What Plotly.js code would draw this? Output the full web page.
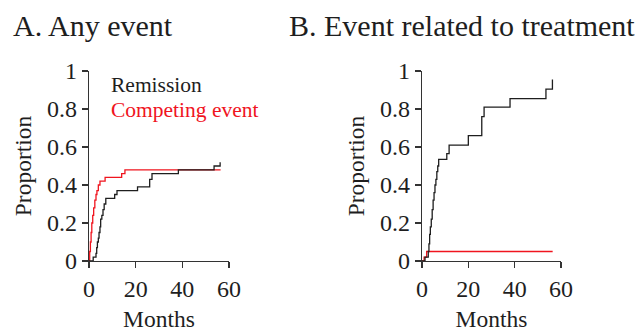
<!DOCTYPE html>
<html>
<head>
<meta charset="utf-8">
<script src="https://cdn.plot.ly/plotly-3.0.1.min.js"></script>
<style>html,body{margin:0;padding:0;background:#fff;}#chart{width:639px;height:332px;}</style>
</head>
<body>
<div id="chart"></div>
<script>
// Panel A: Any event
const anyRemissionMonths = [0, 1.8, 3.0, 3.3, 3.6, 4.0, 4.3, 4.7, 5.0, 5.5, 6.0, 6.5, 7.2, 11.0, 12.0, 20.8, 26.0, 27.0, 38.3, 53.6, 56.2];
const anyRemissionProp   = [0, 0.02, 0.04, 0.07, 0.10, 0.12, 0.15, 0.18, 0.22, 0.24, 0.27, 0.30, 0.33, 0.35, 0.37, 0.39, 0.43, 0.46, 0.48, 0.50, 0.52];
const anyCompetingMonths = [0, 0.3, 0.6, 0.9, 1.2, 1.6, 2.0, 2.5, 3.0, 3.4, 4.0, 4.7, 6.9, 14.0, 15.4, 56.4];
const anyCompetingProp   = [0, 0.05, 0.10, 0.15, 0.20, 0.24, 0.28, 0.32, 0.35, 0.37, 0.40, 0.42, 0.44, 0.46, 0.48, 0.48];
// Panel B: Event related to treatment
const trtRemissionMonths = [0, 1.3, 2.7, 3.0, 3.3, 3.6, 4.0, 4.4, 4.8, 5.2, 5.6, 6.0, 6.4, 6.8, 7.2, 10.7, 11.7, 20.0, 25.8, 26.8, 38.0, 53.5, 56.3];
const trtRemissionProp   = [0, 0.02, 0.05, 0.09, 0.14, 0.18, 0.22, 0.27, 0.32, 0.36, 0.40, 0.43, 0.47, 0.50, 0.535, 0.565, 0.61, 0.66, 0.76, 0.81, 0.855, 0.905, 0.955];
const trtCompetingMonths = [0, 0.9, 2.0, 56.4];
const trtCompetingProp   = [0, 0.02, 0.05, 0.05];

const panelTitles = ["A. Any event", "B. Event related to treatment"];
const seriesNames = ["Remission", "Competing event"];
const xTicks = [0, 20, 40, 60];
const yTicks = [0, 0.2, 0.4, 0.6, 0.8, 1];

const W = 639, H = 332;
const px = v => v / W;
const py = v => 1 - v / H;
const BLACK = "#1e1e1e", RED = "#f0141e";
const FONT = "'Liberation Serif', 'Times New Roman', serif";

function line(x, y, color, xa, ya) {
  return {x: x, y: y, type: "scatter", mode: "lines", line: {shape: "hv", color: color, width: 1.3},
          xaxis: xa, yaxis: ya, showlegend: false, hoverinfo: "skip"};
}
const data = [
  line(anyCompetingMonths, anyCompetingProp, RED, "x", "y"),
  line(anyRemissionMonths, anyRemissionProp, BLACK, "x", "y"),
  line(trtCompetingMonths, trtCompetingProp, RED, "x2", "y2"),
  line(trtRemissionMonths, trtRemissionProp, BLACK, "x2", "y2")
];

function xAxis(dom, anchor) {
  return {domain: dom, anchor: anchor, range: [0, 60], tickvals: xTicks, ticks: "outside", ticklen: 6,
          tickwidth: 1.3, tickcolor: "#333", showline: true, linecolor: "#333", linewidth: 1.3,
          showgrid: false, zeroline: false, fixedrange: true,
          tickfont: {family: FONT, size: 24, color: BLACK},
          title: {text: "Months", font: {family: FONT, size: 23.5, color: BLACK}, standoff: 9}};
}
function yAxis(dom, anchor) {
  return {domain: dom, anchor: anchor, range: [0, 1], tickvals: yTicks, ticks: "outside", ticklen: 6,
          tickwidth: 1.3, tickcolor: "#333", showline: true, linecolor: "#333", linewidth: 1.3,
          showgrid: false, zeroline: false, fixedrange: true,
          tickfont: {family: FONT, size: 24, color: BLACK},
          title: {text: "Proportion", font: {family: FONT, size: 23.5, color: BLACK}, standoff: 8}};
}
const yDom = [py(261), py(71)];
const layout = {
  width: W, height: H, margin: {l: 0, r: 0, t: 0, b: 0}, paper_bgcolor: "#fff", plot_bgcolor: "#fff",
  showlegend: false,
  xaxis: xAxis([px(89), px(229)], "y"),
  yaxis: yAxis(yDom, "x"),
  xaxis2: xAxis([px(422), px(561)], "y2"),
  yaxis2: yAxis(yDom, "x2"),
  annotations: [
    {text: panelTitles[0], xref: "paper", yref: "paper", x: px(11), y: py(25), xanchor: "left", yanchor: "middle",
     showarrow: false, font: {family: FONT, size: 30, color: BLACK}},
    {text: panelTitles[1], xref: "paper", yref: "paper", x: px(287), y: py(25), xanchor: "left", yanchor: "middle",
     showarrow: false, font: {family: FONT, size: 30, color: BLACK}},
    {text: seriesNames[0], xref: "paper", yref: "paper", x: px(109), y: py(85), xanchor: "left", yanchor: "middle",
     showarrow: false, font: {family: FONT, size: 21.5, color: BLACK}},
    {text: seriesNames[1], xref: "paper", yref: "paper", x: px(109), y: py(110), xanchor: "left", yanchor: "middle",
     showarrow: false, font: {family: FONT, size: 21.5, color: RED}}
  ]
};
Plotly.newPlot("chart", data, layout, {staticPlot: true, displayModeBar: false});
</script>
</body>
</html>
